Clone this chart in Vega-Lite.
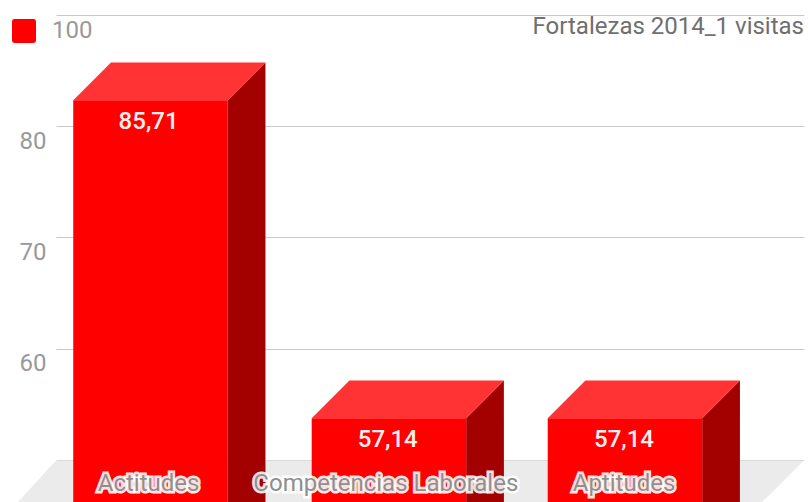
{
"$schema":"https://vega.github.io/schema/vega-lite/v6.json",
"width":748,"height":502,
"autosize":{"type":"none"},
"padding":{"left":56,"right":4,"top":0,"bottom":0},
"background":"#ffffff",
"title":{"text":"Fortalezas 2014_1 visitas","anchor":"end","orient":"top","offset":-39,"font":"Roboto","fontSize":24,"fontWeight":"normal","color":"#6f6f6f"},
"config":{"view":{"stroke":null},"text":{"font":"Roboto"}},
"datasets":{
"suelo":[
{"x":0.4416,"y":46.22,"y2":46.22},
{"x":0.6017,"y":49.94,"y2":46.22},
{"x":3.5787,"y":49.94,"y2":46.22},
{"x":3.7547,"y":49.94,"y2":49.94}],
"frente":[
{"categoria":"Actitudes","serie":"100","x":0.6744,"x2":1.3256,"y":82.31,"y2":46.22},
{"categoria":"Competencias Laborales","serie":"100","x":1.6795,"x2":2.3307,"y":53.74,"y2":46.22},
{"categoria":"Aptitudes","serie":"100","x":2.6744,"x2":3.3256,"y":53.74,"y2":46.22}],
"tapa":[
{"categoria":"Actitudes","x":0.6744,"y":82.31,"y2":82.31},
{"categoria":"Actitudes","x":0.8334,"y":85.71,"y2":82.31},
{"categoria":"Actitudes","x":1.3256,"y":85.71,"y2":82.31},
{"categoria":"Actitudes","x":1.4846,"y":85.71,"y2":85.71},
{"categoria":"Competencias Laborales","x":1.6795,"y":53.74,"y2":53.74},
{"categoria":"Competencias Laborales","x":1.8385,"y":57.14,"y2":53.74},
{"categoria":"Competencias Laborales","x":2.3307,"y":57.14,"y2":53.74},
{"categoria":"Competencias Laborales","x":2.4897,"y":57.14,"y2":57.14},
{"categoria":"Aptitudes","x":2.6744,"y":53.74,"y2":53.74},
{"categoria":"Aptitudes","x":2.8334,"y":57.14,"y2":53.74},
{"categoria":"Aptitudes","x":3.3256,"y":57.14,"y2":53.74},
{"categoria":"Aptitudes","x":3.4846,"y":57.14,"y2":57.14}],
"lado":[
{"categoria":"Actitudes","x":1.3256,"y":82.31,"y2":46.22},
{"categoria":"Actitudes","x":1.4846,"y":85.71,"y2":46.22},
{"categoria":"Competencias Laborales","x":2.3307,"y":53.74,"y2":46.22},
{"categoria":"Competencias Laborales","x":2.4897,"y":57.14,"y2":46.22},
{"categoria":"Aptitudes","x":3.3256,"y":53.74,"y2":46.22},
{"categoria":"Aptitudes","x":3.4846,"y":57.14,"y2":46.22}],
"valores":[
{"etiqueta":"85,71","x":0.992,"y":80.4},
{"etiqueta":"57,14","x":2.0,"y":51.76},
{"etiqueta":"57,14","x":2.996,"y":51.76}],
"categorias":[
{"categoria":"Actitudes","x":0.992,"y":47.85},
{"categoria":"Competencias Laborales","x":1.992,"y":47.85},
{"categoria":"Aptitudes","x":2.996,"y":47.85}]
},
"layer":[
{"data":{"name":"suelo"},"mark":{"type":"area","color":"#ebebeb","interpolate":"linear"},
 "encoding":{
 "x":{"field":"x","type":"quantitative","scale":{"domain":[0.6017,3.7547],"nice":false,"zero":false},"axis":null},
 "y":{"field":"y","type":"quantitative","scale":{"domain":[46.22,91.32],"nice":false,"zero":false},
  "axis":{"title":null,"values":[90,80,70,60,50],"grid":true,"gridColor":"#c8c8c8","gridWidth":1,"domain":false,"ticks":false,"labelFont":"Roboto","labelFontSize":24,"labelColor":"#999999","labelPadding":10,"labelOffset":15,"labelExpr":"datum.value==90||datum.value==50?'':datum.label"}},
 "y2":{"field":"y2"}}},
{"data":{"name":"lado"},"mark":{"type":"area","color":"#a30000"},
 "encoding":{"detail":{"field":"categoria"},"x":{"field":"x","type":"quantitative"},"y":{"field":"y","type":"quantitative"},"y2":{"field":"y2"}}},
{"data":{"name":"tapa"},"mark":{"type":"area","color":"#ff3333"},
 "encoding":{"detail":{"field":"categoria"},"x":{"field":"x","type":"quantitative"},"y":{"field":"y","type":"quantitative"},"y2":{"field":"y2"}}},
{"data":{"name":"frente"},"mark":{"type":"rect"},
 "encoding":{"x":{"field":"x","type":"quantitative"},"x2":{"field":"x2"},"y":{"field":"y","type":"quantitative"},"y2":{"field":"y2"},
 "color":{"field":"serie","type":"nominal","scale":{"domain":["100"],"range":["#ff0000"]},
  "legend":{"orient":"none","legendX":-44,"legendY":19,"title":null,"padding":0,"symbolType":"M-0.8,-1H0.8Q1,-1,1,-0.8V0.8Q1,1,0.8,1H-0.8Q-1,1,-1,0.8V-0.8Q-1,-1,-0.8,-1Z","symbolSize":576,"symbolOpacity":1,"symbolStrokeWidth":0,"labelFont":"Roboto","labelFontSize":24,"labelColor":"#999999","labelOffset":16}}}},
{"data":{"name":"valores"},"mark":{"type":"text","color":"#ffeeee","fontSize":24,"font":"Roboto","fontWeight":500,"baseline":"middle"},
 "encoding":{"x":{"field":"x","type":"quantitative"},"y":{"field":"y","type":"quantitative"},"text":{"field":"etiqueta"}}},
{"data":{"name":"categorias"},"mark":{"type":"text","color":"#ffffff","stroke":"#ffffff","strokeWidth":5,"strokeOpacity":0.9,"fontSize":24,"font":"Roboto","baseline":"middle"},
 "encoding":{"x":{"field":"x","type":"quantitative"},"y":{"field":"y","type":"quantitative"},"text":{"field":"categoria"}}},
{"data":{"name":"categorias"},"mark":{"type":"text","color":"#8f8f8f","fontSize":24,"font":"Roboto","baseline":"middle"},
 "encoding":{"x":{"field":"x","type":"quantitative"},"y":{"field":"y","type":"quantitative"},"text":{"field":"categoria"}}}
]
}
